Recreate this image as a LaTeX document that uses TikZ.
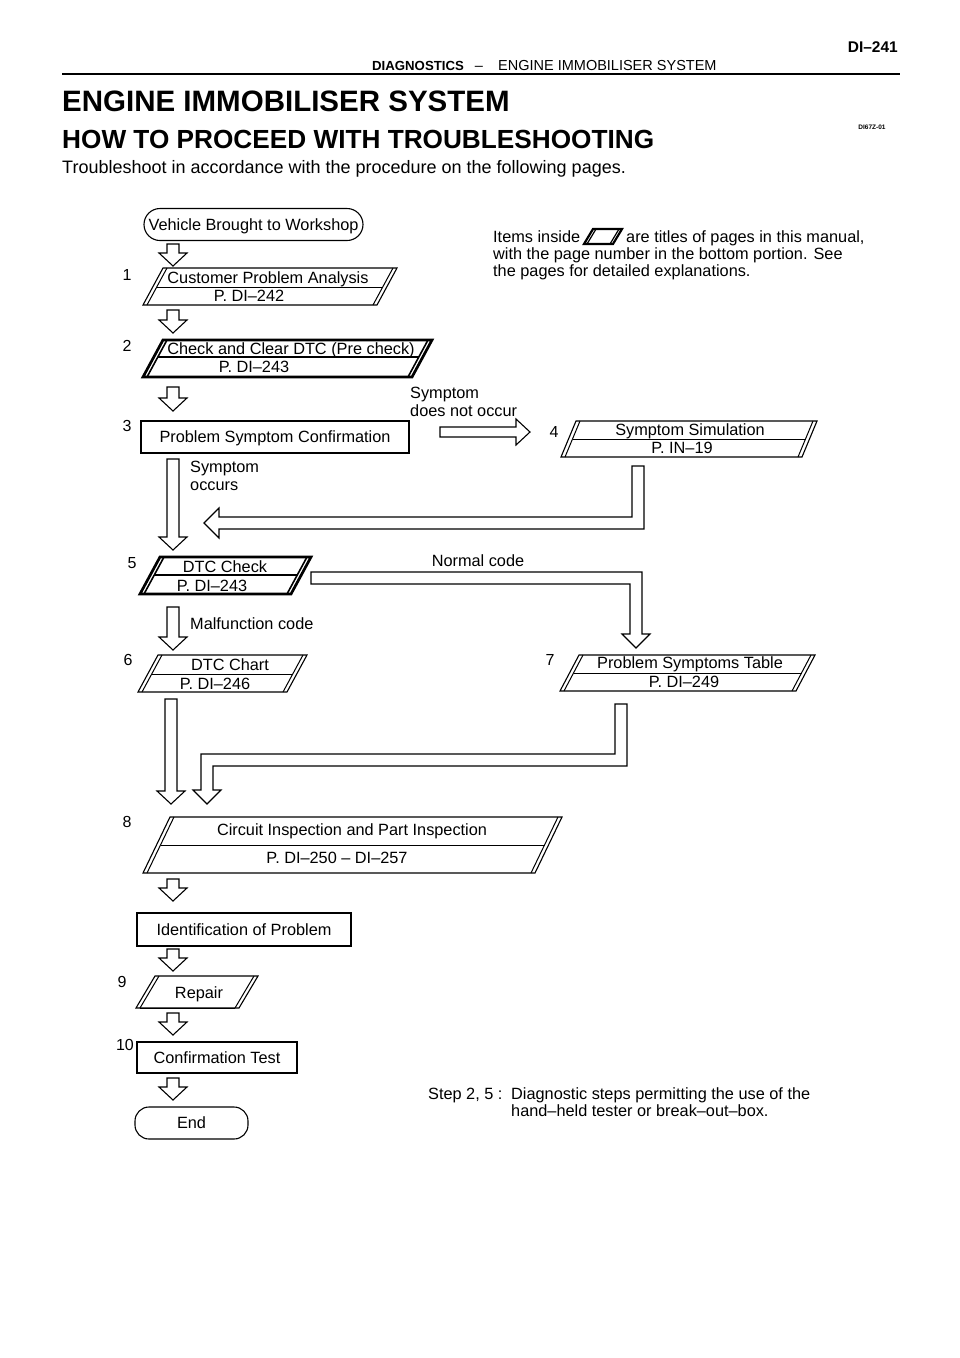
\documentclass[tikz,border=0pt]{standalone}
\usepackage{fontspec}
\setmainfont{Liberation Sans}
\usetikzlibrary{calc}
\tikzset{
  ln/.style={line width=1.1pt},
  blockarrow/.style={draw=black, line width=1.1pt, fill=white, line join=miter},
  txt/.style={inner sep=0pt, font=\fontsize{16.3}{19}\selectfont, anchor=base, yshift=-5.8pt},
  ltxt/.style={txt, anchor=base west},
  num/.style={inner sep=0pt, font=\fontsize{16}{19}\selectfont, anchor=base, yshift=-5.7pt},
  rbox/.style={draw=black, line width=1.1pt, inner sep=0pt, font=\fontsize{16.3}{19}\selectfont,
    text height=11.7pt, text depth=0pt},
  pgthino/.style={line width=1.1pt, line join=miter},
  pgthini/.style={line width=1.0pt},
  pgthicko/.style={line width=2.7pt, line join=miter},
  pgthicki/.style={line width=1.6pt},
}
% #1 style prefix, #2 bottom-left x, #3 bottom-right x, #4 top y, #5 bottom y, #6 slant, #7 mid y
\newcommand\pgram[7][pgthin]{%
  \draw[#1o] ({#2+#6},#4) -- ({#3+#6},#4) -- (#3,#5) -- (#2,#5) -- cycle;
  \draw[#1i] ({#2+#6+4},#4) -- ({#2+4},#5);
  \draw[#1i] ({#3+#6-4},#4) -- ({#3-4},#5);
  \draw[#1i] ({#2+4+#6*(#5-#7)/(#5-#4)},#7) -- ({#3-4+#6*(#5-#7)/(#5-#4)},#7);
}
% hollow down arrow between two named coordinates (start, tip)
\newcommand\vdown[2]{%
  \draw[blockarrow] let \p1=(#1), \p2=(#2) in
    (\x1-6pt,\y1) -- (\x1+6pt,\y1) -- (\x1+6pt,\y2+13pt) -- (\x1+14pt,\y2+13pt)
    -- (\x1,\y2) -- (\x1-14pt,\y2+13pt) -- (\x1-6pt,\y2+13pt) -- cycle;
}
\begin{document}
\begin{tikzpicture}[x=1pt,y=-1pt]
\useasboundingbox (0,0) rectangle (960,1358);
\fill[white] (0,0) rectangle (960,1358);

% ---------- header ----------
\node[inner sep=0pt, anchor=base east, font=\bfseries\fontsize{15.5}{18}\selectfont] (pgno) at (898,52.5) {DI–241};
\node[inner sep=0pt, anchor=base west, font=\bfseries\fontsize{13.2}{16}\selectfont] (hda) at (372,70) {DIAGNOSTICS};
\node[inner sep=0pt, anchor=base, font=\fontsize{14.5}{16}\selectfont] (hdb) at (479,70) {–};
\node[inner sep=0pt, anchor=base west, font=\fontsize{14.5}{16}\selectfont] (hdc) at (498,70) {ENGINE IMMOBILISER SYSTEM};
\draw[line width=2.5pt] (62,74) -- (900,74);
\node[inner sep=0pt, anchor=base west, font=\bfseries\fontsize{29.5}{34}\selectfont] (t1) at (62,111.5) {ENGINE IMMOBILISER SYSTEM};
\node[inner sep=0pt, anchor=base west, font=\bfseries\fontsize{26.2}{30}\selectfont] (t2) at (62,148.5) {HOW TO PROCEED WITH TROUBLESHOOTING};
\node[inner sep=0pt, anchor=base, font=\bfseries\fontsize{6.5}{8}\selectfont] (code) at (872,129.5) {DI67Z-01};
\node[inner sep=0pt, anchor=base west, font=\fontsize{18}{21}\selectfont] (t3) at (62,173) {Troubleshoot in accordance with the procedure on the following pages.};

% ---------- legend ----------
\node[ltxt] (lg1a) at (493,237) {Items inside};
\draw[line width=2.2pt, line join=miter] (584,244) -- (593,229) -- (622,229) -- (613,244) -- cycle;
\draw[line width=1.2pt] (596,229) -- (587,244);
\draw[line width=1.2pt] (619,229) -- (610,244);
\node[ltxt] (lg1b) at (626,237) {are titles of pages in this manual,};
\node[ltxt] (lg2) at (493,254) {with the page number in the bottom portion. See};
\node[ltxt] (lg3) at (493,271) {the pages for detailed explanations.};

% ---------- start ----------
\node[rbox, rounded corners=16pt, minimum width=219pt, minimum height=32pt] (veh) at (253.5,224.5) {Vehicle Brought to Workshop};

% ---------- step 1 ----------
\node[num] (n1) at (127,275) {1};
\pgram{143}{377}{268}{305}{20}{287}
\node[txt] (s1a) at (268,278) {Customer Problem Analysis};
\node[txt] (s1b) at (249,296) {P. DI–242};

% ---------- step 2 ----------
\node[num] (n2) at (127,346) {2};
\pgram[pgthick]{143}{412}{340}{377}{20}{357}
\node[txt] (s2a) at (291,348.5) {Check and Clear DTC (Pre check)};
\node[txt] (s2b) at (254,367) {P. DI–243};

% ---------- step 3 ----------
\node[num] (n3) at (127,426) {3};
\node[rbox, minimum width=268pt, minimum height=32pt] (s3) at (275,437) {Problem Symptom Confirmation};

\node[ltxt] (nocc1) at (410,393) {Symptom};
\node[ltxt] (nocc2) at (410,411) {does not occur};
\node[ltxt] (occ1) at (190,467) {Symptom};
\node[ltxt] (occ2) at (190,485) {occurs};

% ---------- step 4 ----------
\node[num] (n4) at (554,432) {4};
\pgram{561}{802}{421}{457}{15}{439}
\node[txt] (s4a) at (690,430) {Symptom Simulation};
\node[txt] (s4b) at (682,448) {P. IN–19};

% ---------- step 5 ----------
\node[num] (n5) at (132,563) {5};
\pgram[pgthick]{140}{291}{557}{594}{20}{575}
\node[txt] (s5a) at (225,567) {DTC Check};
\node[txt] (s5b) at (212,586) {P. DI–243};
\node[txt] (normal) at (478,561) {Normal code};
\node[ltxt] (malf) at (190,624) {Malfunction code};

% ---------- step 6 ----------
\node[num] (n6) at (128,660) {6};
\pgram{138}{287}{655}{692}{20}{674}
\node[txt] (s6a) at (230,665) {DTC Chart};
\node[txt] (s6b) at (215,684) {P. DI–246};

% ---------- step 7 ----------
\node[num] (n7) at (550,660) {7};
\pgram{560}{796}{655}{691}{19}{673}
\node[txt] (s7a) at (690,663) {Problem Symptoms Table};
\node[txt] (s7b) at (684,682) {P. DI–249};

% ---------- step 8 ----------
\node[num] (n8) at (127,822) {8};
\pgram{143}{535}{817}{873}{27}{845}
\node[txt] (s8a) at (352,830) {Circuit Inspection and Part Inspection};
\node[txt] (s8b) at (337,858) {P. DI–250 – DI–257};

% ---------- identification ----------
\node[rbox, minimum width=214pt, minimum height=33pt] (ident) at (244,929.5) {Identification of Problem};

% ---------- step 9 ----------
\node[num] (n9) at (122,982) {9};
\pgram{136}{239}{976}{1008}{19}{1008}
\node[txt] (s9) at (199,993) {Repair};

% ---------- step 10 ----------
\node[num] (n10) at (125,1045) {10};
\node[rbox, minimum width=160pt, minimum height=31pt] (conf) at (217,1057.5) {Confirmation Test};

% ---------- end ----------
\node[rbox, rounded corners=14pt, minimum width=113pt, minimum height=32pt] (endn) at (191.5,1123) {End};

% ---------- note ----------
\node[ltxt] (st1) at (428,1094) {Step 2, 5 :};
\node[ltxt] (st2) at (511,1094) {Diagnostic steps permitting the use of the};
\node[ltxt] (st3) at (511,1111) {hand–held tester or break–out–box.};

% ---------- straight arrows ----------
\coordinate (a0s) at (173,244);  \coordinate (a0e) at (173,266);
\coordinate (a1s) at (173,310);  \coordinate (a1e) at (173,333);
\coordinate (a2s) at (173,387);  \coordinate (a2e) at (173,411);
\coordinate (a3s) at (173,459);  \coordinate (a3e) at (173,550);
\coordinate (a4s) at (173,607);  \coordinate (a4e) at (173,650);
\coordinate (a5s) at (171,699);  \coordinate (a5e) at (171,804);
\coordinate (a6s) at (173,879);  \coordinate (a6e) at (173,901);
\coordinate (a7s) at (173,949);  \coordinate (a7e) at (173,971);
\coordinate (a8s) at (173,1013); \coordinate (a8e) at (173,1035);
\coordinate (a9s) at (173,1078); \coordinate (a9e) at (173,1100);
\vdown{a0s}{a0e}
\vdown{a1s}{a1e}
\vdown{a2s}{a2e}
\vdown{a3s}{a3e}
\vdown{a4s}{a4e}
\vdown{a5s}{a5e}
\vdown{a6s}{a6e}
\vdown{a7s}{a7e}
\vdown{a8s}{a8e}
\vdown{a9s}{a9e}

% symptom does not occur -> step 4
\draw[blockarrow] (440,427) -- (516,427) -- (516,419) -- (530,432) -- (516,445) -- (516,437) -- (440,437) -- cycle;

% step 4 -> back to step 3 line
\draw[blockarrow] (632,466) -- (644,466) -- (644,529) -- (219,529) -- (219,538)
  -- (204,523) -- (219,508) -- (219,517) -- (632,517) -- cycle;

% normal code -> step 7
\draw[blockarrow] (311,572) -- (642,572) -- (642,634) -- (650,634) -- (636,648)
  -- (622,634) -- (630,634) -- (630,584) -- (311,584) -- cycle;

% step 7 -> step 8
\draw[blockarrow] (615,704) -- (627,704) -- (627,766) -- (213,766) -- (213,790)
  -- (221,790) -- (207,804) -- (193,790) -- (201,790) -- (201,754) -- (615,754) -- cycle;

\end{tikzpicture}
\end{document}
